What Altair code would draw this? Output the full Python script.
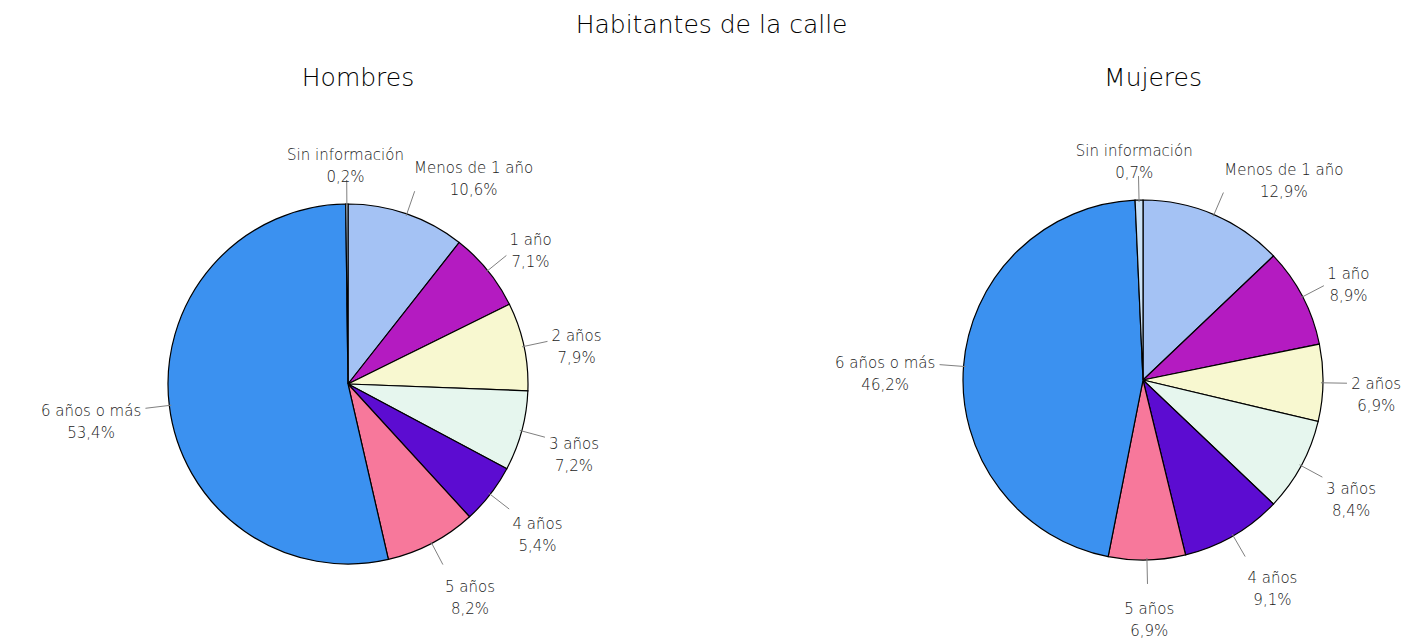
import altair as alt
import pandas as pd

categorias = ["Menos de 1 año", "1 año", "2 años", "3 años", "4 años", "5 años",
              "6 años o más", "Sin información"]
hombres = [10.6, 7.1, 7.9, 7.2, 5.4, 8.2, 53.4, 0.2]
mujeres = [12.9, 8.9, 6.9, 8.4, 9.1, 6.9, 46.2, 0.7]
colores = ["#A4C2F4", "#B41BC1", "#F8F8D0", "#E6F6EE", "#5C0CD1", "#F7789B",
           "#3B91F0", "#CCE2F6"]

FONT = "DejaVu Sans"
R = 180


def panel(values, title, W, H):
    df = pd.DataFrame({
        "cat": categorias,
        "idx": list(range(len(categorias))),
        "v": values,
        "lbl": [f"{v:.1f}".replace(".", ",") + "%" for v in values],
    })
    cx, cy = W / 2, H / 2
    arc = alt.Chart(df).mark_arc(radius=R, stroke="black", strokeWidth=1.2).encode(
        theta=alt.Theta("v:Q", stack=True),
        color=alt.Color("cat:N", scale=alt.Scale(domain=categorias, range=colores), legend=None),
        order=alt.Order("idx:Q"),
    )
    base = (
        alt.Chart(df)
        .transform_joinaggregate(total="sum(v)")
        .transform_window(cum="sum(v)", sort=[alt.SortField("idx")], frame=[None, 0])
        .transform_calculate(mid="2*PI*(datum.cum - datum.v/2)/datum.total")
        .transform_calculate(s="sin(datum.mid)")
        .transform_calculate(c="cos(datum.mid)")
        .transform_calculate(x1=f"{cx} + {R - 2}*datum.s")
        .transform_calculate(y1=f"{cy} - {R - 2}*datum.c")
        .transform_calculate(x2=f"{cx} + {R + 24}*datum.s")
        .transform_calculate(y2=f"{cy} - {R + 24}*datum.c")
        .transform_calculate(hw="4.2*max(length(datum.cat), length(datum.lbl))")
        .transform_calculate(ax=f"{cx} + {R + 28}*datum.s")
        .transform_calculate(ay=f"{cy} - {R + 28}*datum.c")
        .transform_calculate(tx="datum.ax + datum.hw*clamp(3*datum.s, -1, 1)")
        .transform_calculate(ty="datum.ay - 21*datum.c")
        .transform_calculate(txt="datum.cat + '\\n' + datum.lbl")
    )
    rules = base.mark_rule(color="#808080", strokeWidth=1).encode(
        x=alt.X("x1:Q", scale=None), y=alt.Y("y1:Q", scale=None),
        x2="x2:Q", y2="y2:Q",
    )
    texts = base.mark_text(fontSize=15, font=FONT, fontWeight=200, color="#1a1a1a",
                           lineHeight=22, align="center", baseline="middle",
                           lineBreak="\n").encode(
        x=alt.X("tx:Q", scale=None), y=alt.Y("ty:Q", scale=None), text="txt:N",
    )
    return alt.layer(arc, rules, texts).properties(
        width=W, height=H,
        title=alt.TitleParams(title, fontSize=25, font=FONT, fontWeight=200,
                              color="#000000", offset=13, dx=10),
    )


p1 = panel(hombres, "Hombres", 680, 560)
p2 = panel(mujeres, "Mujeres", 494, 552)

chart = (
    alt.hconcat(p1, p2, spacing=208, bounds="flush")
    .properties(
        title=alt.TitleParams("Habitantes de la calle", fontSize=25, font=FONT,
                              fontWeight=200, color="#000000", anchor="middle",
                              offset=28, dx=7),
        padding={"left": 0, "right": 0, "top": 5, "bottom": 0},
    )
    .configure_view(stroke=None)
)

chart.save("out.html", embed_options={"renderer": "svg", "actions": False})
